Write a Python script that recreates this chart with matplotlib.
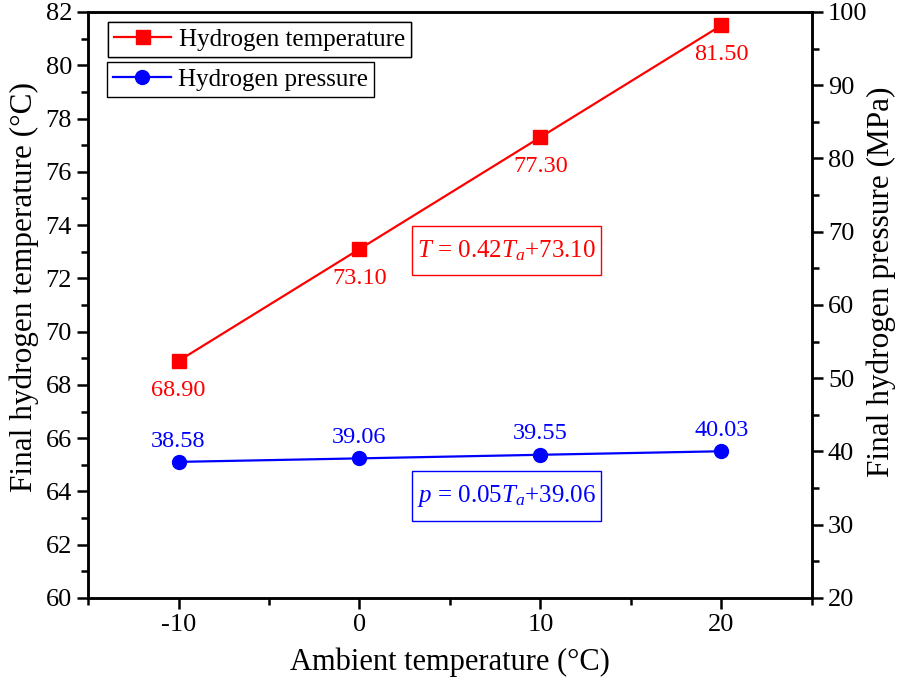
import matplotlib.pyplot as plt
from matplotlib.ticker import MultipleLocator
from matplotlib.lines import Line2D

plt.rcParams["font.family"] = ["Liberation Serif", "DejaVu Serif"]
plt.rcParams["mathtext.fontset"] = "custom"
plt.rcParams["mathtext.rm"] = "Liberation Serif"
plt.rcParams["mathtext.it"] = "Liberation Serif:italic"
plt.rcParams["axes.unicode_minus"] = False

ambient = [-10, 0, 10, 20]
h2_temp = [68.90, 73.10, 77.30, 81.50]
h2_press = [38.58, 39.06, 39.55, 40.03]
temp_labels = ["68.90", "73.10", "77.30", "81.50"]
press_labels = ["38.58", "39.06", "39.55", "40.03"]

fig = plt.figure(figsize=(8.99, 6.81), dpi=100)
ax = fig.add_axes([0.0979, 0.1219, 0.8053, 0.8605])
ax2 = ax.twinx()

ax.plot(ambient, h2_temp, color="red", marker="s", markersize=10, lw=1.6)
ax2.plot(ambient, h2_press, color="blue", marker="o", markersize=10, lw=1.6)

for x, y, s in zip(ambient, h2_temp, temp_labels):
    ax.annotate(s, (x, y), xytext=(0, -21), textcoords="offset points",
                ha="center", va="center", color="red", fontsize=17.5)
for x, y, s in zip(ambient, h2_press, press_labels):
    ax2.annotate(s, (x, y), xytext=(0, 15), textcoords="offset points",
                 ha="center", va="center", color="blue", fontsize=17.5)

box_kw = dict(boxstyle="square,pad=0.2", fc="white", lw=1, mutation_aspect=2.4)
ax.text(8.1, 73.05, r"$T$ = 0.42$T_a$+73.10", color="red", fontsize=18,
        ha="center", va="center", bbox=dict(ec="red", **box_kw))
ax.text(8.1, 63.83, r"$p$ = 0.05$T_a$+39.06", color="blue", fontsize=18,
        ha="center", va="center", bbox=dict(ec="blue", **box_kw))

ax.set_xlim(-15, 25)
ax.set_ylim(60, 82)
ax2.set_ylim(20, 100)
ax.xaxis.set_major_locator(MultipleLocator(10))
ax.xaxis.set_minor_locator(MultipleLocator(5))
ax.yaxis.set_major_locator(MultipleLocator(2))
ax.yaxis.set_minor_locator(MultipleLocator(1))
ax2.yaxis.set_major_locator(MultipleLocator(10))
ax2.yaxis.set_minor_locator(MultipleLocator(5))

for a in (ax, ax2):
    for sp in a.spines.values():
        sp.set_linewidth(1.8)
    a.tick_params(which="major", direction="out", length=8, width=1.8, labelsize=19)
    a.tick_params(which="minor", direction="out", length=5, width=1.8)

ax.set_xlabel("Ambient temperature (°C)", fontsize=22, labelpad=8)
ax.set_ylabel("Final hydrogen temperature (°C)", fontsize=22.5)
ax2.set_ylabel("Final hydrogen pressure (MPa)", fontsize=22.5)
ax.yaxis.set_label_coords(-0.068, 0.531)
ax2.yaxis.set_label_coords(1.075, 0.539)

h1 = Line2D([], [], color="red", marker="s", markersize=10, lw=1.6)
h2 = Line2D([], [], color="blue", marker="o", markersize=10, lw=1.6)
leg1 = ax.legend([h1], ["Hydrogen temperature"], loc="upper left",
                 bbox_to_anchor=(0.027, 0.983), fontsize=18, fancybox=False,
                 edgecolor="black", framealpha=1, handlelength=2.3,
                 borderpad=0.25, handletextpad=0.3, borderaxespad=0)
leg1.get_frame().set_linewidth(1)
ax.add_artist(leg1)
leg2 = ax2.legend([h2], ["Hydrogen pressure"], loc="upper left",
                  bbox_to_anchor=(0.026, 0.915), fontsize=18, fancybox=False,
                  edgecolor="black", framealpha=1, handlelength=2.3,
                  borderpad=0.25, handletextpad=0.3, borderaxespad=0)
leg2.get_frame().set_linewidth(1)

fig.savefig("out.png", dpi=100)
